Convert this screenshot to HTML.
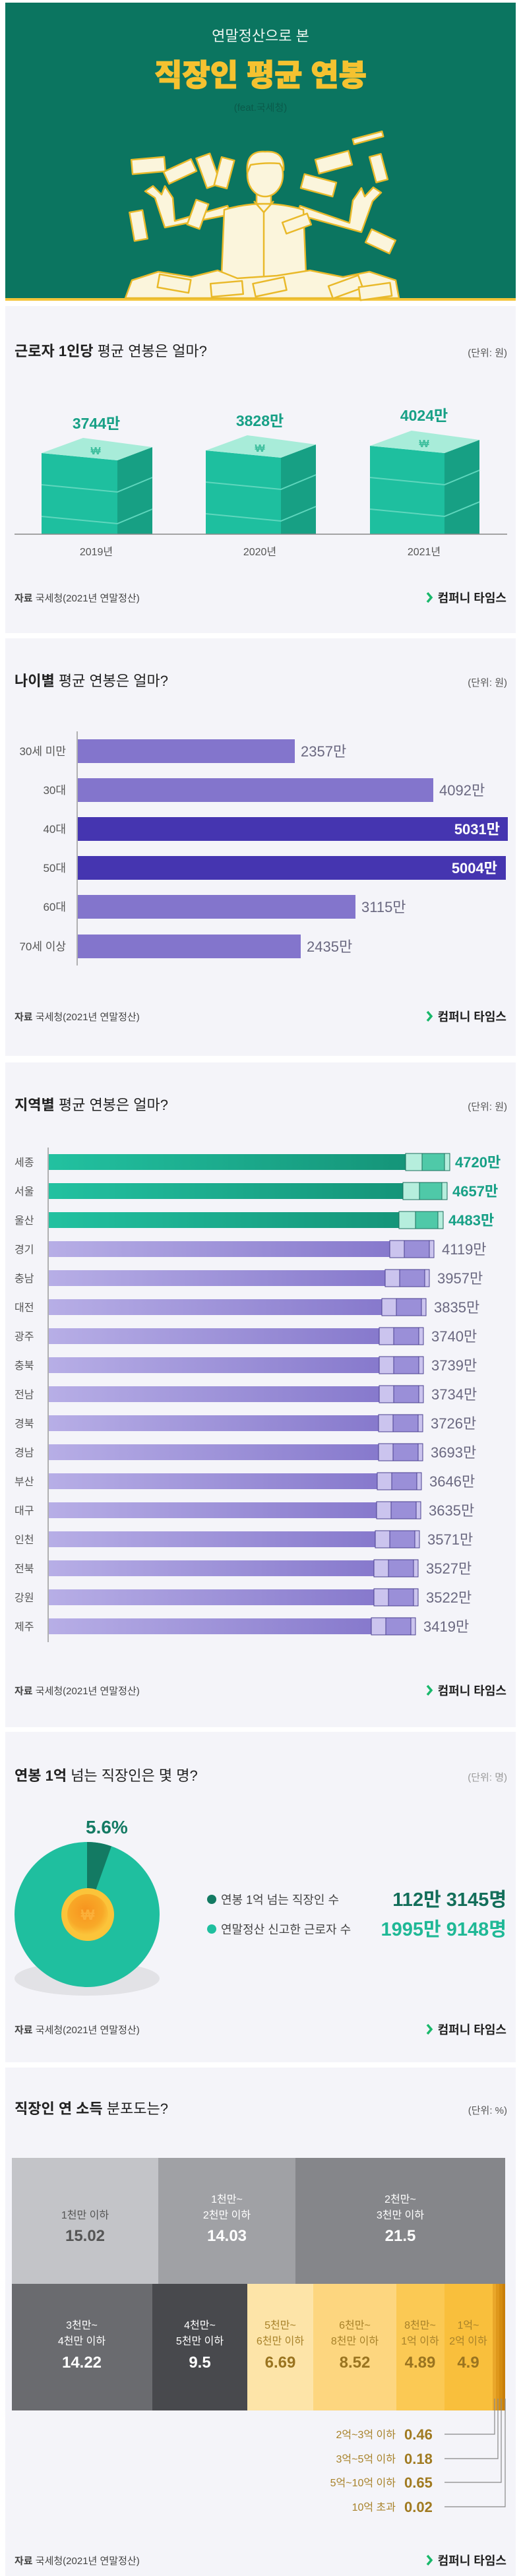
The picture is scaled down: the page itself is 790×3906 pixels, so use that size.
<!DOCTYPE html>
<html><head><meta charset="utf-8">
<style>
html,body{margin:0;padding:0;background:#fff;}
svg{display:block;}
text{font-family:"Liberation Sans","Noto Sans CJK KR",sans-serif;}
</style></head>
<body>
<svg width="790" height="3906" viewBox="0 0 790 3906" xmlns="http://www.w3.org/2000/svg">
<defs>
<linearGradient id="gg" x1="0" x2="1" y1="0" y2="0"><stop offset="0" stop-color="#22c1a0"/><stop offset="1" stop-color="#138f74"/></linearGradient>
<linearGradient id="pg" x1="0" x2="1" y1="0" y2="0"><stop offset="0" stop-color="#b7aee6"/><stop offset="1" stop-color="#8072c9"/></linearGradient>
<radialGradient id="coin" cx="0.45" cy="0.4" r="0.6"><stop offset="0" stop-color="#f7931e"/><stop offset="0.7" stop-color="#f8a928"/><stop offset="1" stop-color="#fbc43a"/></radialGradient>
</defs>
<rect width="790" height="3906" fill="#fff"/>

<!-- HEADER -->
<rect x="8" y="4" width="774" height="452" fill="#0b7560"/>
<rect x="8" y="452" width="774" height="4" fill="#f4c53a"/>
<text x="395" y="62" text-anchor="middle" font-size="22" fill="#eef7f2">연말정산으로 본</text>
<text x="395" y="130" text-anchor="middle" font-size="46" font-weight="900" fill="#f5c230" stroke="#f5c230" stroke-width="1.2">직장인 평균 연봉</text>
<text x="395" y="168" text-anchor="middle" font-size="15" fill="#0a5a4a">(feat.국세청)</text>
<g stroke="#e9b92a" stroke-width="2.5" fill="#fbf5dc" stroke-linejoin="round">
  <path d="M350 325 L250 345 L235 300 L220 290 L232 282 L245 295 L250 282 L262 300 L265 335 L345 312 Z"/>
  <path d="M450 325 L548 352 L565 305 L578 292 L566 284 L553 298 L548 285 L535 304 L530 338 L455 312 Z"/>
  <path d="M340 318 Q400 300 460 318 L465 440 L335 440 Z"/>
  <path d="M385 305 L400 322 L415 305" fill="none"/>
  <line x1="400" y1="322" x2="400" y2="440"/>
  <rect x="389" y="285" width="22" height="24"/>
  <ellipse cx="402" cy="265" rx="27" ry="33"/>
  <path d="M375 262 Q372 228 402 230 Q432 228 430 258 L424 248 Q402 246 380 250 Z" fill="#fbf5dc"/>
  <g font-size="9" fill="#fbf5dc">
    <rect x="200" y="240" width="50" height="22" transform="rotate(-5 225 251)"/>
    <rect x="250" y="250" width="46" height="20" transform="rotate(-25 273 260)"/>
    <rect x="305" y="235" width="22" height="48" transform="rotate(-20 316 259)"/>
    <rect x="330" y="240" width="20" height="44" transform="rotate(15 340 262)"/>
    <rect x="480" y="235" width="52" height="22" transform="rotate(-15 506 246)"/>
    <rect x="458" y="270" width="50" height="22" transform="rotate(15 483 281)"/>
    <rect x="565" y="235" width="18" height="40" transform="rotate(-15 574 255)"/>
    <rect x="535" y="205" width="46" height="8" transform="rotate(-15 558 209)"/>
    <rect x="200" y="320" width="20" height="44" transform="rotate(-10 210 342)"/>
    <rect x="290" y="305" width="20" height="40" transform="rotate(20 300 325)"/>
    <rect x="557" y="355" width="40" height="22" transform="rotate(25 577 366)"/>
    <rect x="430" y="330" width="40" height="18" transform="rotate(-20 450 339)"/>
  </g>
  <path d="M190 452 L200 425 L240 412 L290 420 L330 410 L360 422 L420 418 L470 410 L520 420 L560 412 L600 425 L605 452 Z"/>
  <rect x="240" y="420" width="48" height="20" transform="rotate(10 264 430)"/>
  <rect x="320" y="428" width="48" height="20" transform="rotate(-5 344 438)"/>
  <rect x="385" y="425" width="48" height="20" transform="rotate(-12 409 435)"/>
  <rect x="500" y="425" width="48" height="20" transform="rotate(-20 524 435)"/>
  <rect x="545" y="432" width="48" height="20" transform="rotate(-8 569 442)"/>
</g>

<!-- CARD 1 -->
<rect x="8" y="464" width="774" height="496" fill="#f4f4f9"/>
<text x="22" y="540" font-size="22" fill="#222"><tspan font-weight="bold">근로자 1인당</tspan> 평균 연봉은 얼마?</text>
<text x="769" y="540" text-anchor="end" font-size="15" fill="#555">(단위: 원)</text>
<g>
  <polygon points="63,687 178,698 178,810 63,810" fill="#1ebf9f"/>
  <polygon points="178,698 231,678 231,810 178,810" fill="#17a084"/>
  <polygon points="63,687 126,664 231,678 178,698" fill="#a8ecd9"/>
  <polyline points="63,735 178,746 231,724" fill="none" stroke="#5fd6bd" stroke-width="2"/>
  <polyline points="63,783 178,794 231,772" fill="none" stroke="#5fd6bd" stroke-width="2"/>
  <text x="145" y="689" text-anchor="middle" font-size="16" font-weight="bold" fill="#3fbf9e">₩</text>
  <polygon points="312,683 426,694 426,810 312,810" fill="#1ebf9f"/>
  <polygon points="426,694 479,674 479,810 426,810" fill="#17a084"/>
  <polygon points="312,683 375,660 479,674 426,694" fill="#a8ecd9"/>
  <polyline points="312,731 426,742 479,720" fill="none" stroke="#5fd6bd" stroke-width="2"/>
  <polyline points="312,779 426,790 479,768" fill="none" stroke="#5fd6bd" stroke-width="2"/>
  <text x="394" y="685" text-anchor="middle" font-size="16" font-weight="bold" fill="#3fbf9e">₩</text>
  <polygon points="561,676 674,687 674,810 561,810" fill="#1ebf9f"/>
  <polygon points="674,687 727,667 727,810 674,810" fill="#17a084"/>
  <polygon points="561,676 624,653 727,667 674,687" fill="#a8ecd9"/>
  <polyline points="561,724 674,735 727,713" fill="none" stroke="#5fd6bd" stroke-width="2"/>
  <polyline points="561,772 674,783 727,761" fill="none" stroke="#5fd6bd" stroke-width="2"/>
  <text x="643" y="678" text-anchor="middle" font-size="16" font-weight="bold" fill="#3fbf9e">₩</text>
</g>
<line x1="22" y1="810" x2="769" y2="810" stroke="#888" stroke-width="1.5"/>
<text x="146" y="650" text-anchor="middle" font-size="23" font-weight="bold" fill="#17a086">3744만</text>
<text x="394" y="646" text-anchor="middle" font-size="23" font-weight="bold" fill="#17a086">3828만</text>
<text x="643" y="638" text-anchor="middle" font-size="23" font-weight="bold" fill="#17a086">4024만</text>
<text x="146" y="842" text-anchor="middle" font-size="16" fill="#555">2019년</text>
<text x="394" y="842" text-anchor="middle" font-size="16" fill="#555">2020년</text>
<text x="643" y="842" text-anchor="middle" font-size="16" fill="#555">2021년</text>
<text x="22" y="912" font-size="15" fill="#444"><tspan font-weight="bold">자료</tspan> 국세청(2021년 연말정산)</text>
<text x="768" y="913" text-anchor="end" font-size="18" font-weight="bold" fill="#222">컴퍼니 타임스</text>
<path d="M648 899 L654 906 L648 913" fill="none" stroke="#19b86b" stroke-width="3.5"/>

<!-- CARD 2 -->
<rect x="8" y="968" width="774" height="633" fill="#f4f4f9"/>
<text x="22" y="1040" font-size="22" fill="#222"><tspan font-weight="bold">나이별</tspan> 평균 연봉은 얼마?</text>
<text x="769" y="1040" text-anchor="end" font-size="15" fill="#555">(단위: 원)</text>
<line x1="117" y1="1109" x2="117" y2="1464" stroke="#999" stroke-width="1.5"/>
<g font-size="17" fill="#555" text-anchor="end">
<text x="100" y="1145">30세 미만</text><text x="100" y="1204">30대</text><text x="100" y="1263">40대</text>
<text x="100" y="1322">50대</text><text x="100" y="1381">60대</text><text x="100" y="1441">70세 이상</text>
</g>
<rect x="118" y="1121" width="329" height="36" fill="#8375cc"/>
<rect x="118" y="1180" width="539" height="36" fill="#8375cc"/>
<rect x="118" y="1239" width="652" height="36" fill="#4535b0"/>
<rect x="118" y="1298" width="649" height="36" fill="#4535b0"/>
<rect x="118" y="1357" width="421" height="36" fill="#8375cc"/>
<rect x="118" y="1417" width="338" height="36" fill="#8375cc"/>
<g font-size="22" fill="#6a6880">
<text x="456" y="1147">2357만</text><text x="666" y="1206">4092만</text>
<text x="548" y="1383">3115만</text><text x="465" y="1443">2435만</text>
</g>
<text x="758" y="1265" text-anchor="end" font-size="22" font-weight="bold" fill="#fff">5031만</text>
<text x="754" y="1324" text-anchor="end" font-size="22" font-weight="bold" fill="#fff">5004만</text>
<text x="22" y="1547" font-size="15" fill="#444"><tspan font-weight="bold">자료</tspan> 국세청(2021년 연말정산)</text>
<text x="768" y="1548" text-anchor="end" font-size="18" font-weight="bold" fill="#222">컴퍼니 타임스</text>
<path d="M648 1534 L654 1541 L648 1548" fill="none" stroke="#19b86b" stroke-width="3.5"/>

<!-- CARD 3 -->
<rect x="8" y="1611" width="774" height="1008" fill="#f4f4f9"/>
<text x="22" y="1683" font-size="22" fill="#222"><tspan font-weight="bold">지역별</tspan> 평균 연봉은 얼마?</text>
<text x="769" y="1683" text-anchor="end" font-size="15" fill="#555">(단위: 원)</text>
<line x1="73" y1="1740" x2="73" y2="2490" stroke="#999" stroke-width="1.5"/>
<text x="22" y="2569" font-size="15" fill="#444"><tspan font-weight="bold">자료</tspan> 국세청(2021년 연말정산)</text>
<text x="768" y="2570" text-anchor="end" font-size="18" font-weight="bold" fill="#222">컴퍼니 타임스</text>
<path d="M648 2556 L654 2563 L648 2570" fill="none" stroke="#19b86b" stroke-width="3.5"/>

<!-- CARD 4 -->
<rect x="8" y="2626" width="774" height="501" fill="#f4f4f9"/>
<text x="22" y="2700" font-size="22" fill="#222"><tspan font-weight="bold">연봉 1억</tspan> 넘는 직장인은 몇 명?</text>
<text x="769" y="2700" text-anchor="end" font-size="15" fill="#999">(단위: 명)</text>
<ellipse cx="132" cy="3000" rx="110" ry="26" fill="#e2e2e6"/>
<circle cx="132" cy="2903" r="110" fill="#1fbf9f"/>
<path d="M132 2903 L132 2793 A110 110 0 0 1 169 2799.5 Z" fill="#137a63"/>
<circle cx="133" cy="2903" r="40" fill="#fbc43a"/>
<circle cx="133" cy="2903" r="31" fill="url(#coin)"/>
<text x="133" y="2911" text-anchor="middle" font-size="22" font-weight="bold" fill="#fbb03a">₩</text>
<text x="130" y="2780" font-size="28" font-weight="bold" fill="#137a63">5.6%</text>
<circle cx="321" cy="2880" r="7" fill="#137a63"/>
<circle cx="321" cy="2925" r="7" fill="#1fbf9f"/>
<text x="335" y="2887" font-size="18" fill="#444">연봉 1억 넘는 직장인 수</text>
<text x="335" y="2932" font-size="18" fill="#444">연말정산 신고한 근로자 수</text>
<text x="768" y="2890" text-anchor="end" font-size="29" font-weight="bold" fill="#136e5a">112만 3145명</text>
<text x="768" y="2935" text-anchor="end" font-size="29" font-weight="bold" fill="#1fb896">1995만 9148명</text>
<text x="22" y="3083" font-size="15" fill="#444"><tspan font-weight="bold">자료</tspan> 국세청(2021년 연말정산)</text>
<text x="768" y="3084" text-anchor="end" font-size="18" font-weight="bold" fill="#222">컴퍼니 타임스</text>
<path d="M648 3070 L654 3077 L648 3084" fill="none" stroke="#19b86b" stroke-width="3.5"/>

<!-- CARD 5 -->
<rect x="8" y="3135" width="774" height="771" fill="#f4f4f9"/>
<text x="22" y="3205" font-size="22" fill="#222"><tspan font-weight="bold">직장인 연 소득</tspan> 분포도는?</text>
<text x="769" y="3205" text-anchor="end" font-size="15" fill="#555">(단위: %)</text>
<rect x="18" y="3272" width="222" height="191" fill="#c3c4c8"/>
<rect x="240" y="3272" width="208" height="191" fill="#a0a1a5"/>
<rect x="448" y="3272" width="318" height="191" fill="#85868a"/>
<rect x="18" y="3463" width="213" height="192" fill="#6a6b6f"/>
<rect x="231" y="3463" width="144" height="192" fill="#48494d"/>
<rect x="375" y="3463" width="100" height="192" fill="#fde4a8"/>
<rect x="475" y="3463" width="126" height="192" fill="#fdd67f"/>
<rect x="601" y="3463" width="73" height="192" fill="#fbc954"/>
<rect x="674" y="3463" width="73" height="192" fill="#f9bf3c"/>
<rect x="747" y="3463" width="5" height="192" fill="#eaa72a"/>
<rect x="752" y="3463" width="5" height="192" fill="#df981c"/>
<rect x="757" y="3463" width="5" height="192" fill="#d48c10"/>
<rect x="762" y="3463" width="4" height="192" fill="#c97f0a"/>
<g text-anchor="middle" font-size="16">
<text x="129" y="3364" fill="#555">1천만 이하</text>
<text x="129" y="3398" font-size="24" font-weight="bold" fill="#555">15.02</text>
<text x="344" y="3340" fill="#fff">1천만~</text><text x="344" y="3364" fill="#fff">2천만 이하</text>
<text x="344" y="3398" font-size="24" font-weight="bold" fill="#fff">14.03</text>
<text x="607" y="3340" fill="#fff">2천만~</text><text x="607" y="3364" fill="#fff">3천만 이하</text>
<text x="607" y="3398" font-size="24" font-weight="bold" fill="#fff">21.5</text>
<text x="124" y="3531" fill="#fff">3천만~</text><text x="124" y="3555" fill="#fff">4천만 이하</text>
<text x="124" y="3590" font-size="24" font-weight="bold" fill="#fff">14.22</text>
<text x="303" y="3531" fill="#fff">4천만~</text><text x="303" y="3555" fill="#fff">5천만 이하</text>
<text x="303" y="3590" font-size="24" font-weight="bold" fill="#fff">9.5</text>
<text x="425" y="3531" fill="#a8822a">5천만~</text><text x="425" y="3555" fill="#a8822a">6천만 이하</text>
<text x="425" y="3590" font-size="24" font-weight="bold" fill="#9a7420">6.69</text>
<text x="538" y="3531" fill="#a8822a">6천만~</text><text x="538" y="3555" fill="#a8822a">8천만 이하</text>
<text x="538" y="3590" font-size="24" font-weight="bold" fill="#9a7420">8.52</text>
<text x="637" y="3531" fill="#a8822a">8천만~</text><text x="637" y="3555" fill="#a8822a">1억 이하</text>
<text x="637" y="3590" font-size="24" font-weight="bold" fill="#9a7420">4.89</text>
<text x="710" y="3531" fill="#a8822a">1억~</text><text x="710" y="3555" fill="#a8822a">2억 이하</text>
<text x="710" y="3590" font-size="24" font-weight="bold" fill="#9a7420">4.9</text>
</g>
<g stroke="#888" stroke-width="1.2" fill="none">
<polyline points="674,3691 750,3691 750,3637"/>
<polyline points="674,3728 755,3728 755,3637"/>
<polyline points="674,3764 760,3764 760,3637"/>
<polyline points="674,3801 766,3801 766,3637"/>
</g>
<g font-size="16" fill="#a8822a" text-anchor="end">
<text x="600" y="3697">2억~3억 이하</text><text x="600" y="3734">3억~5억 이하</text>
<text x="600" y="3770">5억~10억 이하</text><text x="600" y="3807">10억 초과</text>
</g>
<g font-size="22" font-weight="bold" fill="#a07a20">
<text x="613" y="3699">0.46</text><text x="613" y="3736">0.18</text>
<text x="613" y="3772">0.65</text><text x="613" y="3809">0.02</text>
</g>
<text x="22" y="3888" font-size="15" fill="#444"><tspan font-weight="bold">자료</tspan> 국세청(2021년 연말정산)</text>
<text x="768" y="3889" text-anchor="end" font-size="18" font-weight="bold" fill="#222">컴퍼니 타임스</text>
<path d="M648 3875 L654 3882 L648 3889" fill="none" stroke="#19b86b" stroke-width="3.5"/>

<!-- region rows -->
<g font-size="16" fill="#555">
<text x="22" y="1768">세종</text><text x="22" y="1812">서울</text><text x="22" y="1856">울산</text>
<text x="22" y="1900">경기</text><text x="22" y="1944">충남</text><text x="22" y="1988">대전</text>
<text x="22" y="2032">광주</text><text x="22" y="2076">충북</text><text x="22" y="2120">전남</text>
<text x="22" y="2164">경북</text><text x="22" y="2208">경남</text><text x="22" y="2252">부산</text>
<text x="22" y="2296">대구</text><text x="22" y="2340">인천</text><text x="22" y="2384">전북</text>
<text x="22" y="2428">강원</text><text x="22" y="2472">제주</text>
</g>
<rect x="74" y="1750" width="608" height="24" fill="url(#gg)"/>
<rect x="74" y="1794" width="604" height="24" fill="url(#gg)"/>
<rect x="74" y="1838" width="598" height="24" fill="url(#gg)"/>
<g stroke="#1a6e5c" stroke-width="1">
<rect x="615" y="1749" width="67" height="26" fill="#b6eedd"/><rect x="640" y="1749" width="34" height="26" fill="#4fc9a8"/>
<rect x="611" y="1793" width="67" height="26" fill="#b6eedd"/><rect x="636" y="1793" width="34" height="26" fill="#4fc9a8"/>
<rect x="605" y="1837" width="67" height="26" fill="#b6eedd"/><rect x="630" y="1837" width="34" height="26" fill="#4fc9a8"/>
</g>
<g font-size="22" font-weight="bold" fill="#17a086">
<text x="690" y="1770">4720만</text><text x="686" y="1814">4657만</text><text x="680" y="1858">4483만</text>
</g>
<g fill="url(#pg)">
<rect x="74" y="1882" width="584" height="24"/><rect x="74" y="1926" width="577" height="24"/>
<rect x="74" y="1970" width="572" height="24"/><rect x="74" y="2014" width="568" height="24"/>
<rect x="74" y="2058" width="568" height="24"/><rect x="74" y="2102" width="568" height="24"/>
<rect x="74" y="2146" width="567" height="24"/><rect x="74" y="2190" width="567" height="24"/>
<rect x="74" y="2234" width="565" height="24"/><rect x="74" y="2278" width="564" height="24"/>
<rect x="74" y="2322" width="562" height="24"/><rect x="74" y="2366" width="560" height="24"/>
<rect x="74" y="2410" width="560" height="24"/><rect x="74" y="2454" width="556" height="24"/>
</g>
<g stroke="#4a3f8f" stroke-width="1">
<rect x="591" y="1881" width="67" height="26" fill="#cbc4ee"/><rect x="613" y="1881" width="38" height="26" fill="#9a8fd8"/>
<rect x="584" y="1925" width="67" height="26" fill="#cbc4ee"/><rect x="606" y="1925" width="38" height="26" fill="#9a8fd8"/>
<rect x="579" y="1969" width="67" height="26" fill="#cbc4ee"/><rect x="601" y="1969" width="38" height="26" fill="#9a8fd8"/>
<rect x="575" y="2013" width="67" height="26" fill="#cbc4ee"/><rect x="597" y="2013" width="38" height="26" fill="#9a8fd8"/>
<rect x="575" y="2057" width="67" height="26" fill="#cbc4ee"/><rect x="597" y="2057" width="38" height="26" fill="#9a8fd8"/>
<rect x="575" y="2101" width="67" height="26" fill="#cbc4ee"/><rect x="597" y="2101" width="38" height="26" fill="#9a8fd8"/>
<rect x="574" y="2145" width="67" height="26" fill="#cbc4ee"/><rect x="596" y="2145" width="38" height="26" fill="#9a8fd8"/>
<rect x="574" y="2189" width="67" height="26" fill="#cbc4ee"/><rect x="596" y="2189" width="38" height="26" fill="#9a8fd8"/>
<rect x="572" y="2233" width="67" height="26" fill="#cbc4ee"/><rect x="594" y="2233" width="38" height="26" fill="#9a8fd8"/>
<rect x="571" y="2277" width="67" height="26" fill="#cbc4ee"/><rect x="593" y="2277" width="38" height="26" fill="#9a8fd8"/>
<rect x="569" y="2321" width="67" height="26" fill="#cbc4ee"/><rect x="591" y="2321" width="38" height="26" fill="#9a8fd8"/>
<rect x="567" y="2365" width="67" height="26" fill="#cbc4ee"/><rect x="589" y="2365" width="38" height="26" fill="#9a8fd8"/>
<rect x="567" y="2409" width="67" height="26" fill="#cbc4ee"/><rect x="589" y="2409" width="38" height="26" fill="#9a8fd8"/>
<rect x="563" y="2453" width="67" height="26" fill="#cbc4ee"/><rect x="585" y="2453" width="38" height="26" fill="#9a8fd8"/>
</g>
<g font-size="22" fill="#6a6880">
<text x="670" y="1902">4119만</text><text x="663" y="1946">3957만</text><text x="658" y="1990">3835만</text>
<text x="654" y="2034">3740만</text><text x="654" y="2078">3739만</text><text x="654" y="2122">3734만</text>
<text x="653" y="2166">3726만</text><text x="653" y="2210">3693만</text><text x="651" y="2254">3646만</text>
<text x="650" y="2298">3635만</text><text x="648" y="2342">3571만</text><text x="646" y="2386">3527만</text>
<text x="646" y="2430">3522만</text><text x="642" y="2474">3419만</text>
</g>
</svg>
</body></html>
